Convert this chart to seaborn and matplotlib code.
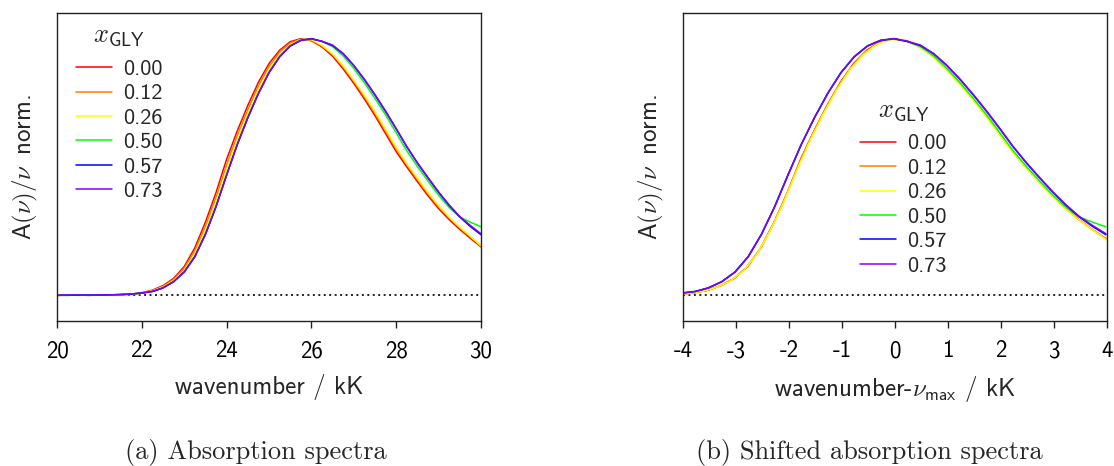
import matplotlib
matplotlib.use("Agg")
import matplotlib.pyplot as plt
import pandas as pd
import seaborn as sns

# ---------------- data ----------------
wavenumber = [20.00, 20.25, 20.50, 20.75, 21.00, 21.25, 21.50, 21.75,
              22.00, 22.25, 22.50, 22.75, 23.00, 23.25, 23.50, 23.75,
              24.00, 24.25, 24.50, 24.75, 25.00, 25.25, 25.50, 25.75,
              26.00, 26.25, 26.50, 26.75, 27.00, 27.25, 27.50, 27.75,
              28.00, 28.25, 28.50, 28.75, 29.00, 29.25, 29.50, 29.75,
              30.00]

absorb_000 = [0.000, 0.001, 0.001, 0.000, 0.001, 0.001, 0.003, 0.005,
              0.010, 0.020, 0.038, 0.066, 0.112, 0.185, 0.285, 0.400,
              0.530, 0.640, 0.740, 0.830, 0.903, 0.955, 0.988, 1.000,
              0.992, 0.968, 0.932, 0.882, 0.826, 0.765, 0.700, 0.630,
              0.560, 0.500, 0.443, 0.388, 0.338, 0.295, 0.257, 0.222,
              0.189]
absorb_012 = [0.000, 0.001, 0.001, 0.001, 0.001, 0.001, 0.002, 0.004,
              0.009, 0.018, 0.035, 0.062, 0.105, 0.173, 0.269, 0.382,
              0.509, 0.622, 0.724, 0.816, 0.891, 0.947, 0.983, 0.998,
              0.994, 0.972, 0.938, 0.890, 0.835, 0.775, 0.710, 0.641,
              0.571, 0.510, 0.452, 0.397, 0.346, 0.302, 0.263, 0.228,
              0.193]
absorb_026 = [0.000, 0.000, 0.001, 0.001, 0.000, 0.001, 0.002, 0.004,
              0.008, 0.017, 0.032, 0.057, 0.097, 0.162, 0.253, 0.363,
              0.488, 0.605, 0.708, 0.801, 0.880, 0.938, 0.977, 0.996,
              0.997, 0.974, 0.941, 0.894, 0.839, 0.780, 0.716, 0.647,
              0.577, 0.514, 0.457, 0.401, 0.350, 0.305, 0.266, 0.230,
              0.193]
absorb_050 = [0.000, 0.001, 0.000, 0.001, 0.001, 0.002, 0.003, 0.005,
              0.009, 0.015, 0.029, 0.053, 0.090, 0.150, 0.237, 0.345,
              0.468, 0.587, 0.692, 0.787, 0.868, 0.930, 0.972, 0.994,
              0.999, 0.990, 0.969, 0.933, 0.884, 0.828, 0.767, 0.703,
              0.633, 0.563, 0.502, 0.445, 0.390, 0.342, 0.305, 0.285,
              0.267]
absorb_057 = [0.000, 0.000, 0.001, 0.001, 0.001, 0.002, 0.003, 0.005,
              0.009, 0.015, 0.029, 0.053, 0.091, 0.151, 0.238, 0.346,
              0.469, 0.587, 0.692, 0.786, 0.867, 0.929, 0.971, 0.993,
              1.000, 0.989, 0.973, 0.941, 0.895, 0.840, 0.780, 0.716,
              0.648, 0.578, 0.515, 0.457, 0.401, 0.350, 0.305, 0.268,
              0.236]
absorb_073 = [0.000, 0.001, 0.001, 0.000, 0.001, 0.002, 0.003, 0.005,
              0.009, 0.015, 0.029, 0.053, 0.090, 0.150, 0.237, 0.345,
              0.468, 0.587, 0.692, 0.787, 0.868, 0.930, 0.972, 0.994,
              1.000, 0.990, 0.975, 0.942, 0.896, 0.842, 0.782, 0.718,
              0.650, 0.580, 0.517, 0.459, 0.403, 0.352, 0.307, 0.272,
              0.240]

x_gly_labels = ["0.00", "0.12", "0.26", "0.50", "0.57", "0.73"]
nu_max = [25.78, 25.82, 25.85, 26.02, 26.02, 26.02]
line_colors = ["#ff0000", "#ff8000", "#ffff00", "#00ff00", "#0000ff", "#8000ff"]

ticks_a = [20, 22, 24, 26, 28, 30]
tick_labels_a = ["20", "22", "24", "26", "28", "30"]
ticks_b = [-4, -3, -2, -1, 0, 1, 2, 3, 4]
tick_labels_b = ["-4", "-3", "-2", "-1", "0", "1", "2", "3", "4"]

captions = ["(a) Absorption spectra", "(b) Shifted absorption spectra"]

series = [absorb_000, absorb_012, absorb_026, absorb_050, absorb_057, absorb_073]

rows = []
for lab, vals, nm in zip(x_gly_labels, series, nu_max):
    for v, a in zip(wavenumber, vals):
        rows.append({"xgly": lab, "nu": v, "shift": v - nm, "A": a})
df = pd.DataFrame(rows)

# ---------------- style ----------------
sns.set_theme(style="white")
plt.rcParams.update({
    "font.family": ["cmss10", "DejaVu Sans"],
    "mathtext.fontset": "cm",
    "axes.unicode_minus": False,
    "axes.edgecolor": "#222222",
    "axes.linewidth": 1.0,
    "xtick.color": "#222222",
    "xtick.labelcolor": "black",
})

W, H = 1114, 466
fig = plt.figure(figsize=(W / 100, H / 100), dpi=100)
ax1 = fig.add_axes([57 / W, 1 - 321 / H, 424 / W, 308 / H])
ax2 = fig.add_axes([683 / W, 1 - 321 / H, 424 / W, 308 / H])

palette = dict(zip(x_gly_labels, line_colors))

configs = [
    (ax1, "nu", (20, 30), ticks_a, tick_labels_a, "wavenumber / kK", (0.045, 0.965)),
    (ax2, "shift", (-4, 4), ticks_b, tick_labels_b,
     r"wavenumber-$\nu_{\mathsf{max}}$ / kK", (0.418, 0.723)),
]

for ax, xcol, xlim, ticks, tlabels, xlabel, anchor in configs:
    ax.axhline(0, color="#222222", lw=1.4, linestyle=(0, (1, 1.8)), zorder=1.5)
    sns.lineplot(data=df, x=xcol, y="A", hue="xgly", hue_order=x_gly_labels,
                 palette=palette, estimator=None, sort=False, lw=1.1, ax=ax)
    ax.set_xlim(*xlim)
    ax.set_ylim(-0.1, 1.1)
    ax.set_yticks([])
    ax.set_xticks(ticks)
    ax.set_xticklabels(tlabels)
    ax.tick_params(axis="x", direction="out", length=5, width=1.0,
                   labelsize=16.5, pad=9, bottom=True)
    ax.set_xlabel(xlabel, fontsize=18, labelpad=8)
    ax.set_ylabel(r"A$(\nu)/\nu\,$ norm.", fontsize=18, labelpad=12)
    for s in ax.spines.values():
        s.set_visible(True)
        s.set_color("#222222")
        s.set_linewidth(1.0)

    leg = ax.get_legend()
    handles = leg.legend_handles
    labels = [t.get_text() for t in leg.get_texts()]
    leg.remove()
    new_leg = ax.legend(handles, labels, title=r"$x_{\mathsf{GLY}}$",
                        loc="upper left", bbox_to_anchor=anchor,
                        frameon=False, fontsize=16, title_fontsize=19,
                        handlelength=1.6, handletextpad=0.5,
                        labelspacing=0.22, borderpad=0, borderaxespad=0)
    new_leg._legend_box.sep = 8
    for lh in new_leg.legend_handles:
        lh.set_linewidth(1.1)

fig.text(256 / W, 1 - 453 / H, captions[0], family="cmr10", fontsize=19,
         ha="center", va="center")
fig.text(869 / W, 1 - 453 / H, captions[1], family="cmr10", fontsize=19,
         ha="center", va="center")

fig.savefig("out.png", dpi=100)
